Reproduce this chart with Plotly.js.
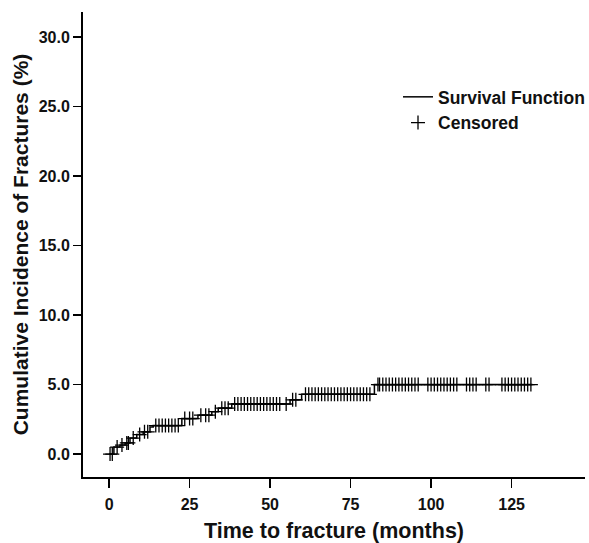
<!DOCTYPE html>
<html>
<head>
<meta charset="utf-8">
<script src="https://cdn.plot.ly/plotly-3.0.1.min.js"></script>
<style>html,body{margin:0;padding:0;background:#fff;}#chart{width:589px;height:543px;}</style>
</head>
<body>
<div id="chart"></div>
<script>
// Step function (Kaplan-Meier cumulative incidence)
var stepTimes = [0, 1.5, 3.4, 5.0, 6.5, 8.6, 10.6, 12.7, 13.7, 22.6, 27.6, 31.9, 33.9, 38.1, 56.2, 59.8, 82.4, 131.5];
var stepValues = [0, 0.5, 0.65, 0.8, 1.15, 1.4, 1.6, 1.95, 2.05, 2.55, 2.8, 3.05, 3.3, 3.6, 3.9, 4.3, 5.0, 5.0];

// Censored observation times (months)
var censoredTimes = [0.3, 1.0, 2.5, 4.0, 5.5, 6.0, 7.5, 9.5, 11.0, 12.0,
  14.5, 15.5, 16.5, 17.5, 18.5, 19.5, 20.5, 21.5, 23.5, 25, 26, 28.5, 30, 31,
  33, 35, 36, 37, 39, 40, 41, 42, 43, 44, 45, 46, 47, 48, 49, 50, 51, 52, 53,
  55, 57, 58, 61, 62, 63, 64, 65, 66, 67, 68, 69, 70, 71, 72, 73, 74, 75, 76,
  77, 78, 79, 80, 81, 83.5, 84, 85, 86, 87, 88, 89, 90, 91, 92, 93, 94, 95, 96,
  99, 100, 101, 102, 103, 104, 105, 106, 107, 108, 111, 112, 113, 114,
  117, 118, 122, 123, 124, 125, 126, 127, 128, 129, 130, 131];

var xTicks = [0, 25, 50, 75, 100, 125];
var yTicks = [0, 5, 10, 15, 20, 25, 30];

function valueAt(t) {
  var v = stepValues[0];
  for (var i = 0; i < stepTimes.length; i++) {
    if (stepTimes[i] <= t) v = stepValues[i];
  }
  return v;
}
var censoredValues = censoredTimes.map(valueAt);

var FONT = 'Liberation Sans, Arial, sans-serif';

var traces = [
  {
    x: stepTimes, y: stepValues, type: 'scatter', mode: 'lines',
    line: {shape: 'hv', color: '#000', width: 1.5},
    name: 'Survival Function', legendgroup: 'a'
  },
  {
    x: censoredTimes, y: censoredValues, type: 'scatter', mode: 'markers',
    marker: {symbol: 'cross-thin', size: 10, color: '#000', line: {color: '#000', width: 1.3}},
    name: 'Censored', legendgroup: 'b'
  }
];

var layout = {
  width: 589, height: 543,
  margin: {l: 83, r: 4, t: 12, b: 66, autoexpand: false},
  paper_bgcolor: '#fff', plot_bgcolor: '#fff',
  showlegend: true,
  legend: {
    x: 0.6275, y: 0.856, xanchor: 'left', yanchor: 'top',
    font: {family: FONT, size: 17.5, color: '#111', weight: 'bold'},
    bgcolor: 'rgba(0,0,0,0)', itemwidth: 30, tracegroupgap: 0,
    traceorder: 'grouped'
  },
  xaxis: {
    range: [-8.1, 147.8], tickvals: xTicks, ticktext: xTicks.map(String),
    showgrid: false, zeroline: false, showline: true, linecolor: '#000', linewidth: 2,
    ticks: 'outside', ticklen: 9, tickwidth: 1.5, tickcolor: '#000',
    ticklabelstandoff: 3,
    tickfont: {family: FONT, size: 16, color: '#111', weight: 'bold'},
    title: {text: 'Time to fracture (months)', font: {family: FONT, size: 21.5, color: '#111', weight: 'bold'}, standoff: 14}
  },
  yaxis: {
    range: [-1.65, 31.8], tickvals: yTicks, ticktext: yTicks.map(function(v){return v.toFixed(1);}),
    showgrid: false, zeroline: false, showline: true, linecolor: '#000', linewidth: 2,
    ticks: 'outside', ticklen: 8, tickwidth: 1.5, tickcolor: '#000',
    tickfont: {family: FONT, size: 16, color: '#111', weight: 'bold'},
    title: {text: 'Cumulative Incidence of Fractures (%)', font: {family: FONT, size: 21, color: '#111', weight: 'bold'}, standoff: 4}
  }
};

Plotly.newPlot('chart', traces, layout, {displayModeBar: false, staticPlot: true});
</script>
</body>
</html>
